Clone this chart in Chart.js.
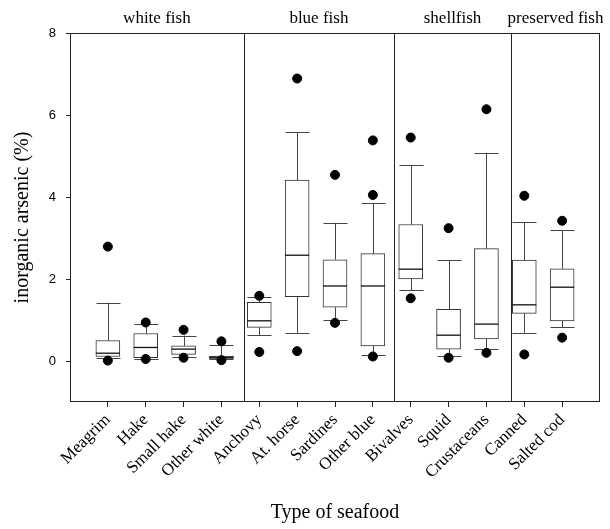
<!DOCTYPE html>
<html>
<head>
<meta charset="utf-8">
<script src="https://cdn.jsdelivr.net/npm/chart.js@4.4.1/dist/chart.umd.min.js"></script>
<style>
  html, body { margin: 0; padding: 0; background: #fff; }
  #wrap { width: 610px; height: 529px; }
</style>
</head>
<body>
<div id="wrap"><canvas id="c" width="610" height="529"></canvas></div>
<script>
const categories = ['Meagrim','Hake','Small hake','Other white','Anchovy','At. horse','Sardines','Other blue','Bivalves','Squid','Crustaceans','Canned','Salted cod'];
const whiskerLow  = [0.07, 0.06, 0.09, 0.05, 0.63, 0.69, 1.00, 0.15, 1.72, 0.12, 0.29, 0.69, 0.82];
const q1          = [0.11, 0.08, 0.16, 0.05, 0.82, 1.57, 1.31, 0.37, 2.00, 0.29, 0.54, 1.16, 0.98];
const median      = [0.19, 0.33, 0.29, 0.09, 0.98, 2.58, 1.83, 1.83, 2.24, 0.63, 0.90, 1.37, 1.80];
const q3          = [0.50, 0.67, 0.37, 0.12, 1.43, 4.41, 2.47, 2.62, 3.33, 1.26, 2.74, 2.46, 2.25];
const whiskerHigh = [1.42, 0.91, 0.62, 0.39, 1.57, 5.58, 3.37, 3.85, 4.78, 2.46, 5.08, 3.38, 3.19];
const outlierHigh = [2.79, 0.94, 0.76, 0.48, 1.59, 6.89, 4.54, 4.05, 5.45, 3.24, 6.14, 4.03, 3.42];
const outlierHigh2= [null, null, null, null, null, null, null, 5.38, null, null, null, null, null];
const outlierLow  = [0.01, 0.05, 0.08, 0.02, 0.22, 0.24, 0.93, 0.11, 1.53, 0.08, 0.20, 0.16, 0.57];
const groups = ['white fish', 'blue fish', 'shellfish', 'preserved fish'];
const groupBounds = [-1, 3.59, 7.56, 10.65, 13];
const yTicks = [0, 2, 4, 6, 8];

const boxData = categories.map((c, i) => ({ x: i, y: [q1[i], q3[i]] }));
const outlierData = [];
categories.forEach((c, i) => {
  [outlierHigh[i], outlierHigh2[i], outlierLow[i]].forEach(v => {
    if (v !== null) outlierData.push({ x: i, y: v });
  });
});

const BOX_W = 24;

const boxPlugin = {
  id: 'boxExtras',
  beforeDatasetsDraw(chart) {
    const ctx = chart.ctx, xs = chart.scales.x, ys = chart.scales.y;
    ctx.save();
    ctx.strokeStyle = '#444';
    ctx.lineWidth = 1;
    categories.forEach((c, i) => {
      const x = Math.round(xs.getPixelForValue(i)) + 0.5;
      const yLo = ys.getPixelForValue(whiskerLow[i]);
      const yQ1 = ys.getPixelForValue(q1[i]);
      const yQ3 = ys.getPixelForValue(q3[i]);
      const yHi = ys.getPixelForValue(whiskerHigh[i]);
      ctx.beginPath();
      ctx.moveTo(x, yQ3); ctx.lineTo(x, yHi);
      ctx.moveTo(x, yQ1); ctx.lineTo(x, yLo);
      ctx.moveTo(x - BOX_W / 2, Math.round(yHi) + 0.5); ctx.lineTo(x + BOX_W / 2, Math.round(yHi) + 0.5);
      ctx.moveTo(x - BOX_W / 2, Math.round(yLo) + 0.5); ctx.lineTo(x + BOX_W / 2, Math.round(yLo) + 0.5);
      ctx.stroke();
    });
    ctx.restore();
  },
  afterDatasetDraw(chart, args) {
    if (args.index !== 0) return;
    const ctx = chart.ctx, xs = chart.scales.x, ys = chart.scales.y;
    ctx.save();
    ctx.strokeStyle = '#111';
    ctx.lineWidth = 1.3;
    categories.forEach((c, i) => {
      const x = xs.getPixelForValue(i);
      const y = ys.getPixelForValue(median[i]);
      ctx.beginPath();
      ctx.moveTo(x - BOX_W / 2, y); ctx.lineTo(x + BOX_W / 2, y);
      ctx.stroke();
    });
    ctx.restore();
  },
  afterDraw(chart) {
    const ctx = chart.ctx, xs = chart.scales.x, a = chart.chartArea;
    ctx.save();
    ctx.strokeStyle = '#222';
    ctx.lineWidth = 1;
    ctx.strokeRect(Math.round(a.left) + 0.5, Math.round(a.top) + 0.5, Math.round(a.right - a.left) - 1, Math.round(a.bottom - a.top) - 1);
    ctx.beginPath();
    for (let g = 1; g < groupBounds.length - 1; g++) {
      const x = Math.round(xs.getPixelForValue(groupBounds[g])) + 0.5;
      ctx.moveTo(x, a.top); ctx.lineTo(x, a.bottom);
    }
    ctx.stroke();
    ctx.fillStyle = '#000';
    ctx.font = '17px "Liberation Serif", "Times New Roman", serif';
    ctx.textAlign = 'center';
    ctx.textBaseline = 'middle';
    groups.forEach((g, k) => {
      const x = (xs.getPixelForValue(groupBounds[k]) + xs.getPixelForValue(groupBounds[k + 1])) / 2;
      ctx.fillText(g, x, a.top - 14);
    });
    ctx.restore();
  }
};

new Chart(document.getElementById('c'), {
  type: 'bar',
  data: {
    datasets: [
      {
        type: 'bar',
        data: boxData,
        backgroundColor: '#fff',
        borderColor: '#333',
        borderWidth: 1,
        borderSkipped: false,
        barThickness: BOX_W,
        order: 2
      },
      {
        type: 'scatter',
        data: outlierData,
        backgroundColor: '#000',
        borderColor: '#000',
        pointRadius: 4.5,
        pointHoverRadius: 4.5,
        order: 1
      }
    ]
  },
  options: {
    responsive: false,
    animation: false,
    events: [],
    layout: { padding: { top: 33, right: 10, left: 0, bottom: 0 } },
    plugins: { legend: { display: false }, tooltip: { enabled: false } },
    scales: {
      x: {
        type: 'linear',
        min: -1,
        max: 13,
        offset: false,
        afterBuildTicks(s) { s.ticks = categories.map((c, i) => ({ value: i })); },
        afterFit(s) { s.height = 127; },
        grid: { offset: false, drawOnChartArea: false, drawTicks: true, tickLength: 5, color: '#222' },
        border: { display: false },
        ticks: {
          autoSkip: false,
          minRotation: 45,
          maxRotation: 45,
          padding: 3,
          color: '#000',
          font: { family: '"Liberation Serif", "Times New Roman", serif', size: 17 },
          callback: (v) => categories[v]
        },
        title: {
          display: true,
          text: 'Type of seafood',
          color: '#000',
          font: { family: '"Liberation Serif", "Times New Roman", serif', size: 20 },
          padding: { top: 0, bottom: 4 }
        }
      },
      y: {
        min: -1,
        max: 8,
        afterBuildTicks(s) { s.ticks = yTicks.map(v => ({ value: v })); },
        afterFit(s) { s.width = 70; },
        grid: { drawOnChartArea: false, drawTicks: true, tickLength: 4, color: '#222' },
        border: { display: false },
        ticks: {
          padding: 10,
          color: '#000',
          font: { family: '"Liberation Sans", Arial, sans-serif', size: 13 }
        },
        title: {
          display: true,
          text: 'inorganic arsenic (%)',
          color: '#000',
          font: { family: '"Liberation Serif", "Times New Roman", serif', size: 20 },
          padding: { top: 11, bottom: 0 }
        }
      }
    }
  },
  plugins: [boxPlugin]
});
</script>
</body>
</html>
